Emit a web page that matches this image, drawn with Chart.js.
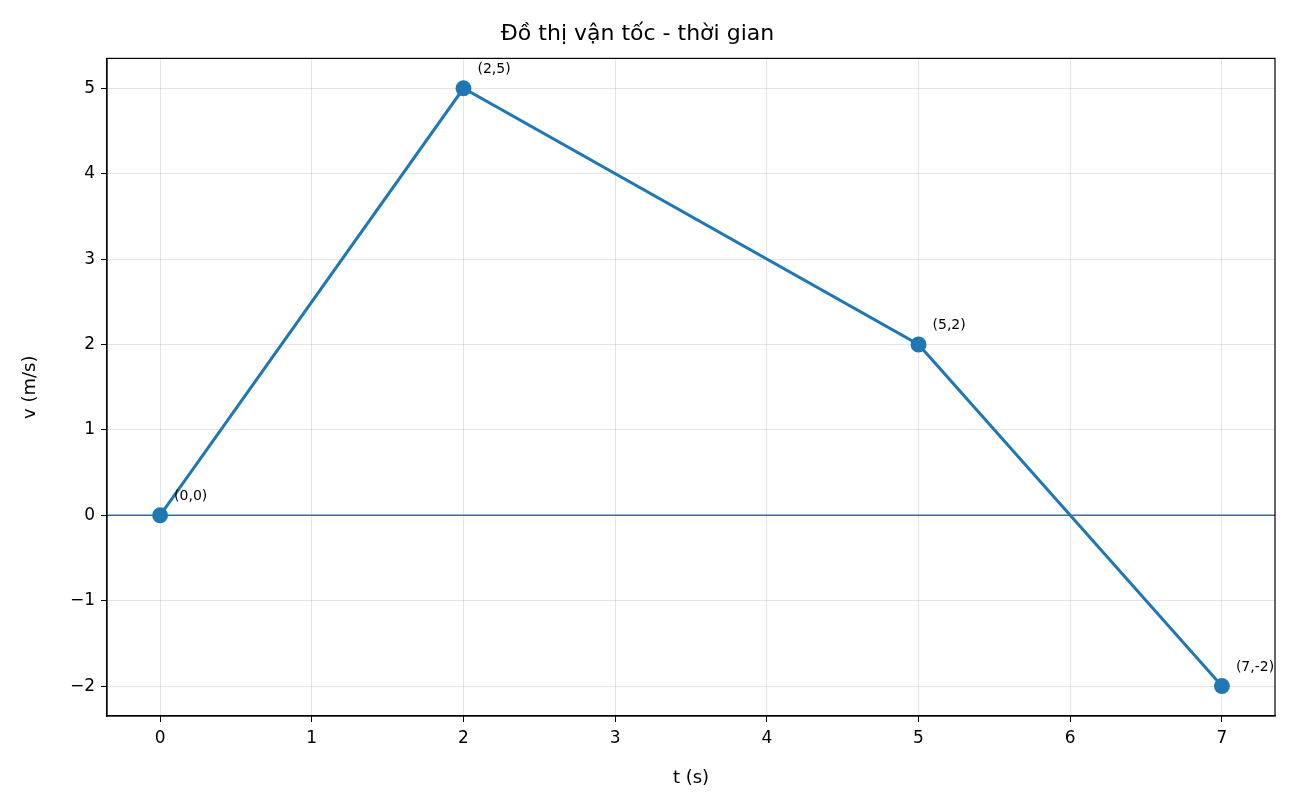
<!DOCTYPE html>
<html><head><meta charset="utf-8">
<script src="https://cdn.jsdelivr.net/npm/chart.js@4"></script>
<style>html,body{margin:0;padding:0;background:#fff}#w{width:1307px;height:809px}</style>
</head><body><div id="w"><canvas id="c"></canvas></div>
<script>
const tValues = [0, 2, 5, 7];
const vValues = [0, 5, 2, -2];
const pointLabels = ["(0,0)", "(2,5)", "(5,2)", "(7,-2)"];
const xTicks = [0,1,2,3,4,5,6,7];
const yTicks = [-2,-1,0,1,2,3,4,5];
const C = '#1f77b4';
const font = "'DejaVu Sans', sans-serif";

const extras = {
  id: 'extras',
  beforeDatasetsDraw(chart) {
    const {ctx, chartArea: a, scales: {x, y}} = chart;
    ctx.save();
    ctx.strokeStyle = C; ctx.lineWidth = 1.5;
    const y0 = y.getPixelForValue(0);
    ctx.beginPath(); ctx.moveTo(a.left, y0); ctx.lineTo(a.right, y0); ctx.stroke();
    ctx.restore();
  },
  afterDatasetsDraw(chart) {
    const {ctx, chartArea: a, scales: {x, y}} = chart;
    ctx.save();
    ctx.strokeStyle = '#000'; ctx.lineWidth = 1.2;
    ctx.strokeRect(a.left, a.top, a.right - a.left, a.bottom - a.top);
    ctx.fillStyle = '#000'; ctx.font = "14px " + font;
    ctx.textBaseline = 'alphabetic';
    tValues.forEach((t, i) => {
      ctx.fillText(pointLabels[i], x.getPixelForValue(t) + 14, y.getPixelForValue(vValues[i]) - 15);
    });
    ctx.restore();
  }
};

new Chart(document.getElementById('c'), {
  type: 'scatter',
  data: { datasets: [{
    data: tValues.map((t, i) => ({x: t, y: vValues[i]})),
    showLine: true, borderColor: C, backgroundColor: C, borderWidth: 3,
    pointRadius: 6.5, pointHoverRadius: 6.5, tension: 0
  }]},
  options: {
    responsive: true, maintainAspectRatio: false, animation: false,
    layout: { padding: { left: 0, right: 32, top: 0, bottom: 0 } },
    plugins: {
      legend: { display: false }, tooltip: { enabled: false },
      title: { display: true, text: 'Đồ thị vận tốc - thời gian', color: '#000',
        font: { family: font, size: 22, weight: 'normal', lineHeight: 1.2 },
        padding: { top: 21, bottom: 11 } }
    },
    scales: {
      x: {
        type: 'linear', min: -0.35, max: 7.35,
        afterBuildTicks(s) { s.ticks = xTicks.map(v => ({value: v})); },
        afterFit(s) { s.height = 93; },
        grid: { color: 'rgba(0,0,0,0.1)', tickColor: '#000', tickLength: 6, drawTicks: true },
        border: { color: '#000', width: 1.2 },
        ticks: { color: '#000', font: { family: font, size: 17 }, padding: 6 },
        title: { display: true, text: 't (s)', color: '#000', font: { family: font, size: 18 }, padding: { top: 8, bottom: 20 } }
      },
      y: {
        type: 'linear', min: -2.35, max: 5.35,
        afterBuildTicks(s) { s.ticks = yTicks.map(v => ({value: v})); },
        afterFit(s) { s.width = 107; },
        grid: { color: 'rgba(0,0,0,0.1)', tickColor: '#000', tickLength: 6 },
        border: { color: '#000', width: 1.2 },
        ticks: { color: '#000', font: { family: font, size: 17 }, padding: 6,
          callback: v => v < 0 ? '\u2212' + Math.abs(v) : String(v) },
        title: { display: true, text: 'v (m/s)', color: '#000', font: { family: font, size: 18 }, padding: { top: 20, bottom: 10 } }
      }
    }
  },
  plugins: [extras]
});
</script></body></html>
